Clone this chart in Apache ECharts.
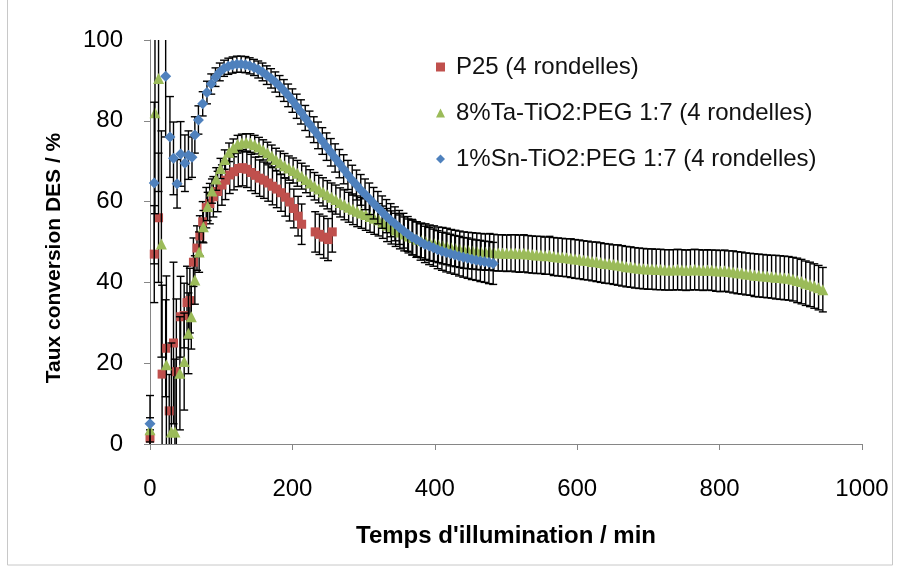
<!DOCTYPE html>
<html>
<head>
<meta charset="utf-8">
<script src="https://cdn.jsdelivr.net/npm/echarts@6/dist/echarts.min.js"></script>
<style>html,body{margin:0;padding:0;background:#fff;}#c{width:898px;height:571px;}</style>
</head>
<body>
<div id="c"></div>
<script>
// ---- data ----
const seriesNames = ['P25 (4 rondelles)', '8%Ta-TiO2:PEG 1:7 (4 rondelles)', '1%Sn-TiO2:PEG 1:7 (4 rondelles)'];
const xTicks = [0, 200, 400, 600, 800, 1000];
const yTicks = [0, 20, 40, 60, 80, 100];

const redTime = [0,6,12,17,22,27,33,37,43,48,52,56,61,66,70,74,79,84,89,95,101,106,112,118,124,130,136,142,148,154,160,166,172,178,184,190,196,202,208,213,232,238,244,250,256];
const redValue = [1.5,47,56,17.3,23.7,8.2,25,17.9,31.5,31.8,35,35.5,45,48.5,51.5,55,58.5,59.5,61.2,62.5,64.1,65.3,66.6,67.4,68.2,68.4,68,67.2,66.5,65.8,65.3,64.6,63.8,63.1,62.2,61.1,59.9,58.3,56.4,54.4,52.5,51.9,51.2,50.6,52.5];
const redError = [2,12,16,22,12,9,20,18,10,8,9,8,6,5.5,5,5,5,5,5,5,5,4.8,4.6,4.5,4.5,4.5,4.5,4.5,4.5,4.5,4.5,4.5,4.6,4.6,4.6,4.7,4.7,4.8,4.9,5,5,5,5.2,5.2,5];

const greenTime = [0,7,12,16,23,30,35,42,48,54,58,
63,69,75,81,87,93,99,105,111,117,
123,129,135,141,147,153,159,165,171,177,
183,189,195,201,207,213,219,225,231,237,
243,249,255,261,267,273,279,285,291,297,
303,309,315,321,327,333,339,345,351,357,
363,369,375,381,387,393,399,405,411,417,
423,429,435,441,447,453,459,465,471,477,
483,489,495,501,507,513,519,525,531,537,
543,549,555,561,567,573,579,585,591,597,
603,609,615,621,627,633,639,645,651,657,
663,669,675,681,687,693,699,705,711,717,
723,729,735,741,747,753,759,765,771,777,
783,789,795,801,807,813,819,825,831,837,
843,849,855,861,867,873,879,885,891,897,
903,909,915,921,927,933,939,945];
const greenValue = [3.5,82,90.5,49.5,19.6,3,3,17.5,20.4,27.4,31.5,
40.6,47.5,53.8,58.8,62.6,65.6,68.2,70.4,72.2,73.3,
74.2,74.5,74.6,74.5,74.1,73.5,72.8,72.1,71.3,70.4,
69.6,68.9,68.3,67.7,67.0,66.3,65.5,64.6,63.8,63.1,
62.4,61.7,61.1,60.5,59.8,59.2,58.6,58.1,57.6,57.2,
56.8,56.3,55.9,55.5,54.9,54.2,53.6,53.0,52.5,52.0,
51.5,51.1,50.7,50.4,50.1,49.8,49.6,49.3,49.1,48.9,
48.6,48.4,48.2,48.0,47.9,47.8,47.7,47.6,47.5,47.6,
47.4,47.3,47.3,47.2,47.3,47.2,47.1,47.2,47.0,46.9,
46.8,46.8,46.6,46.7,46.4,46.3,46.2,46.1,46.0,45.8,
45.7,45.5,45.4,45.2,45.1,44.9,44.7,44.6,44.4,44.3,
44.1,43.9,43.8,43.6,43.5,43.4,43.3,43.3,43.2,43.2,
43.1,43.1,43.1,43.2,43.1,43.0,43.1,43.2,43.1,43.0,
43.1,43.0,42.9,42.8,42.9,42.7,42.6,42.4,42.3,42.1,
42.0,41.8,41.7,41.6,41.5,41.4,41.3,41.2,41.1,41.0,
40.8,40.5,40.2,39.8,39.5,39.1,38.7,38.2];
const greenError = [3,25,28,28,22,22,18,14,12,10,8,
6,5,4,3.5,3,2.8,2.5,2.4,2.3,2.2,
2.2,2.2,2.2,2.3,2.3,2.4,2.5,2.6,2.7,2.8,
2.9,3,3,3.1,3.2,3.2,3.3,3.3,3.4,3.4,
3.5,3.5,3.5,3.6,3.6,3.7,3.7,3.8,3.8,3.8,
3.9,3.9,4,4,4,4.1,4.1,4.1,4.2,4.2,
4.2,4.3,4.3,4.3,4.4,4.4,4.4,4.4,4.5,4.5,
4.5,4.5,4.5,4.5,4.5,4.5,4.5,4.5,4.5,4.5,
4.5,4.5,4.5,4.5,4.5,4.6,4.6,4.6,4.6,4.6,
4.6,4.6,4.6,4.7,4.7,4.7,4.7,4.7,4.8,4.8,
4.8,4.8,4.8,4.8,4.9,4.9,4.9,4.9,4.9,5,
5,5,5,5,5,5,5,5,5,5,
5,5,5,5,5,5,5,5,5,5,
5,5,5.1,5.1,5.1,5.1,5.2,5.2,5.2,5.2,
5.2,5.3,5.3,5.3,5.3,5.3,5.4,5.4,5.4,5.4,
5.4,5.5,5.5,5.5,5.5,5.5,5.5,5.5];

const blueTime = [0,6,22,28,33,38,43,49,54,59,63,
68,74,80,86,92,98,104,110,116,122,
128,134,140,146,152,158,164,170,176,182,
188,194,200,206,212,218,224,230,236,242,
248,254,260,266,272,278,284,290,296,302,
308,314,320,326,332,338,344,350,356,362,
368,374,380,386,392,398,404,410,416,422,
428,434,440,446,452,458,464,470,476,482];
const blueValue = [5,64.6,91,76,70.7,64.4,71.8,69.5,71.5,71,76.5,
80.2,84.2,87.0,89.1,90.8,92.1,93.0,93.5,93.8,94.0,
94.0,93.9,93.6,93.2,92.7,92.1,91.3,90.5,89.6,88.6,
87.5,86.3,85.0,83.6,82.2,80.7,79.2,77.8,76.4,75.0,
73.6,72.2,70.8,69.4,68.0,66.6,65.3,64.1,62.9,61.8,
60.7,59.6,58.5,57.4,56.4,55.4,54.5,53.6,52.8,52.0,
51.2,50.6,50.0,49.4,49.0,48.6,48.1,47.7,47.4,47.1,
46.8,46.5,46.2,46.0,45.7,45.5,45.3,45.1,44.9,44.7];
const blueError = [7,20,15,10,9,6,8,7,6,5,4.5,
3.5,3,2.8,2.5,2.3,2.2,2,2,2,2,
2,2,2,2,2.1,2.2,2.3,2.4,2.5,2.6,
2.7,2.8,2.9,3,3,3.1,3.2,3.2,3.3,3.3,
3.4,3.4,3.5,3.5,3.6,3.6,3.7,3.7,3.8,3.8,
3.9,3.9,4,4,4.1,4.1,4.2,4.2,4.3,4.3,
4.4,4.4,4.5,4.5,4.6,4.6,4.7,4.7,4.8,4.8,
4.8,4.9,4.9,5,5,5,5.1,5.1,5.2,5.2];

// ---- build ----
function rows(t, v, e) { return t.map((x, i) => [x, v[i], e[i]]); }
const Y_MIN = yTicks[0], Y_MAX = yTicks[yTicks.length - 1];

function errorRender(params, api) {
  const x = api.value(0), y = api.value(1), e = api.value(2);
  const hi = Math.min(y + e, Y_MAX), lo = Math.max(y - e, Y_MIN);
  const pHi = api.coord([x, hi]), pLo = api.coord([x, lo]);
  const cw = 4;
  const style = { stroke: '#000', lineWidth: 1.4 };
  const children = [{ type: 'line', shape: { x1: pHi[0], y1: pHi[1], x2: pLo[0], y2: pLo[1] }, style }];
  if (y + e <= Y_MAX) children.push({ type: 'line', shape: { x1: pHi[0] - cw, y1: pHi[1], x2: pHi[0] + cw, y2: pHi[1] }, style });
  if (y - e >= Y_MIN) children.push({ type: 'line', shape: { x1: pLo[0] - cw, y1: pLo[1], x2: pLo[0] + cw, y2: pLo[1] }, style });
  return { type: 'group', children };
}

const colors = ['#C0504D', '#9BBB59', '#4F81BD'];
const symbols = ['rect', 'triangle', 'diamond'];
const sizes = [9, 11, 11];
const datasets = [rows(redTime, redValue, redError), rows(greenTime, greenValue, greenError), rows(blueTime, blueValue, blueError)];

const series = [];
datasets.forEach((d, i) => {
  series.push({ type: 'custom', name: seriesNames[i] + ' err', renderItem: errorRender, data: d, z: 2 + i * 2, silent: true, animation: false, encode: { x: 0, y: 1 } });
  series.push({ type: 'scatter', name: seriesNames[i], data: d.map(r => [r[0], r[1]]), symbol: symbols[i], symbolSize: sizes[i], itemStyle: { color: colors[i], opacity: 1 }, z: 3 + i * 2, animation: false });
});

const FONT = 'Liberation Sans';
const chart = echarts.init(document.getElementById('c'), null, { renderer: 'canvas' });
chart.setOption({
  animation: false,
  backgroundColor: '#fff',
  textStyle: { fontFamily: FONT },
  grid: { left: 150, right: 36, top: 40, bottom: 127 },
  xAxis: {
    type: 'value', min: xTicks[0], max: xTicks[xTicks.length - 1], interval: 200,
    axisLine: { lineStyle: { color: '#868686', width: 1 } },
    axisTick: { show: true, inside: false, length: 6, lineStyle: { color: '#868686' } },
    axisLabel: { color: '#000', fontSize: 24, margin: 33, fontFamily: FONT, formatter: v => String(v) },
    splitLine: { show: false }
  },
  yAxis: {
    type: 'value', min: Y_MIN, max: Y_MAX, interval: 20,
    axisLine: { show: true, lineStyle: { color: '#868686', width: 1 } },
    axisTick: { show: true, inside: false, length: 6, lineStyle: { color: '#868686' } },
    axisLabel: { color: '#000', fontSize: 24, margin: 27, fontFamily: FONT },
    splitLine: { show: false }
  },
  legend: {
    orient: 'vertical', left: 431, top: 50, itemWidth: 9, itemHeight: 9, itemGap: 22,
    data: seriesNames,
    textStyle: { fontSize: 24, color: '#111', fontFamily: FONT, padding: [0, 0, 0, 6] }
  },
  graphic: [
    { type: 'text', x: 506, y: 524, style: { text: "Temps d'illumination / min", font: 'bold 24px "Liberation Sans"', fill: '#000', textAlign: 'center' } },
    { type: 'text', rotation: Math.PI / 2, x: 54, y: 258, style: { text: 'Taux conversion DES / %', font: 'bold 21px "Liberation Sans"', fill: '#000', textAlign: 'center', textVerticalAlign: 'middle' } },
    { type: 'rect', shape: { x: 7.5, y: -2, width: 885, height: 567 }, style: { fill: 'none', stroke: '#c8c8c8', lineWidth: 1 }, silent: true }
  ],
  series
});
</script>
</body>
</html>
